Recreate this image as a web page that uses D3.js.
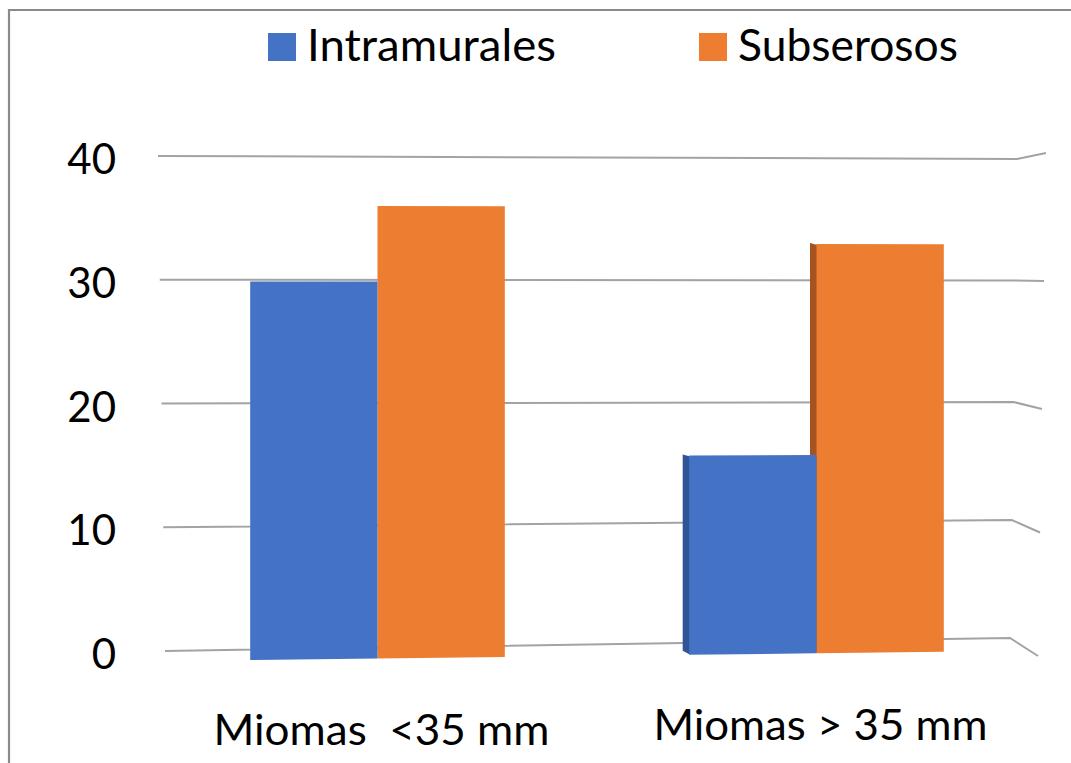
<!DOCTYPE html>
<html>
<head>
<meta charset="utf-8">
<script src="https://cdn.jsdelivr.net/npm/d3@7"></script>
<style>
  html, body { margin: 0; padding: 0; background: #fff; }
  svg { display: block; }
  text { font-family: Lato, "Open Sans", sans-serif; fill: #000; }
</style>
</head>
<body>
<svg id="chart" width="1071" height="763"></svg>
<script>
// ---- data ----
const categories = ["Miomas  <35 mm", "Miomas > 35 mm"];
const seriesNames = ["Intramurales", "Subserosos"];
const intramurales = [30, 16];
const subserosos = [36, 33];
const tickValues = [0, 10, 20, 30, 40];

const seriesValues = [intramurales, subserosos];
const colors = ["#4472C4", "#ED7D31"];
const sideColors = ["#2F5597", "#A5541F"];

const svg = d3.select("#chart");

// frame
svg.append("path")
  .attr("d", "M9,770 L9,10 L1080,10")
  .attr("fill", "none").attr("stroke", "#8a8a8a").attr("stroke-width", 2.2);

// ---- scales ----
const x = d3.scaleBand().domain(categories).range([158, 1036])
  .paddingInner(0.42).paddingOuter(0.21);
const xs = d3.scaleBand().domain(seriesNames).range([0, x.bandwidth()]);

// gridline (back wall) scales
const yLeft = d3.scaleLinear().domain([0, 40]).range([651, 156]);
const yBend = d3.scaleLinear().domain([0, 20, 40]).range([638, 402, 159]);
const yEnd = d3.scaleLinear().domain([0, 20, 40]).range([656, 409, 153]);
const xLeft = d3.scaleLinear().domain([0, 40]).range([165, 158]);
const xBend = d3.scaleLinear().domain([0, 40]).range([1010, 1017]);
const xEnd = d3.scaleLinear().domain([0, 40]).range([1038, 1046]);

// bar (front) scales, blended along x for slight perspective
const yNear = d3.scaleLinear().domain([0, 40]).range([661, 155]);
const yFar = d3.scaleLinear().domain([0, 40]).range([651, 158]);
const tX = d3.scaleLinear().domain([165, 1010]).range([0, 1]);
const yAt = (v, px) => {
  const t = tX(px);
  return yNear(v) + (yFar(v) - yNear(v)) * t;
};

// ---- gridlines ----
svg.append("g").selectAll("path").data(tickValues).join("path")
  .attr("d", v => d3.line()([
    [xLeft(v), yLeft(v)], [xBend(v), yBend(v)], [xEnd(v), yEnd(v)]
  ]))
  .attr("fill", "none").attr("stroke", "#a3a3a3").attr("stroke-width", 2);

// ---- tick labels ----
svg.append("g").selectAll("text").data(tickValues).join("text")
  .attr("x", 116).attr("y", v => yLeft(v) + 18)
  .attr("text-anchor", "end")
  .attr("font-size", 42)
  .text(v => v);

// ---- bars ----
const bars = [];
categories.forEach((c, ci) => {
  seriesNames.forEach((s, si) => {
    bars.push({ c, s, si, v: seriesValues[si][ci] });
  });
});
// draw orange (back series) first so blue covers its side face
const order = bars.slice().sort((a, b) => b.si - a.si);
const barG = svg.append("g");
order.forEach(d => {
  const x0 = x(d.c) + xs(d.s);
  const x1 = x0 + xs.bandwidth();
  const hasSide = x(d.c) > 500;
  if (hasSide) {
    const sw = 6.5;
    barG.append("polygon")
      .attr("points", [
        [x0 - sw, yAt(d.v, x0) - 1], [x0 + 1, yAt(d.v, x0) + 1],
        [x0 + 1, yAt(0, x0)], [x0 - sw, yAt(0, x0) - 4]
      ].map(p => p.join(",")).join(" "))
      .attr("fill", sideColors[d.si]);
  }
  barG.append("polygon")
    .attr("points", [
      [x0, yAt(d.v, x0)], [x1, yAt(d.v, x1)],
      [x1, yAt(0, x1)], [x0, yAt(0, x0)]
    ].map(p => p.join(",")).join(" "))
    .attr("fill", colors[d.si]);
});

// ---- category labels ----
const catWidths = [336, 334];
svg.append("g").selectAll("text").data(categories).join("text")
  .attr("x", c => x(c) + x.bandwidth() / 2 + 4)
  .attr("y", c => yAt(0, x(c) + x.bandwidth() / 2) + 87)
  .attr("text-anchor", "middle")
  .attr("font-size", 42)
  .attr("textLength", (c, i) => catWidths[i])
  .attr("lengthAdjust", "spacingAndGlyphs")
  .attr("xml:space", "preserve")
  .style("white-space", "pre")
  .text(c => c);

// ---- legend ----
const legendX = d3.scaleOrdinal().domain(seriesNames).range([268, 699]);
const legendW = [249, 220];
const lg = svg.append("g").selectAll("g").data(seriesNames).join("g")
  .attr("transform", s => `translate(${legendX(s)},33)`);
lg.append("rect").attr("width", 28).attr("height", 28)
  .attr("fill", (s, i) => colors[i]);
lg.append("text").attr("x", 39).attr("y", 28)
  .attr("font-size", 44)
  .attr("textLength", (s, i) => legendW[i])
  .attr("lengthAdjust", "spacingAndGlyphs")
  .text(s => s);
</script>
</body>
</html>
